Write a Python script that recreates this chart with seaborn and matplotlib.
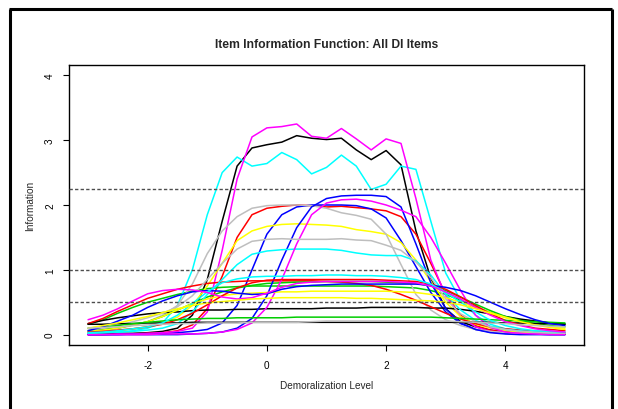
import numpy as np
import pandas as pd
import matplotlib
matplotlib.use("Agg")
import matplotlib.pyplot as plt
from matplotlib.lines import Line2D
import seaborn as sns

# theta grid the curves were read at
theta = [-3.0, -2.75, -2.5, -2.25, -2.0, -1.75, -1.5, -1.25, -1.0, -0.75, -0.5,
         -0.25, 0.0, 0.25, 0.5, 0.75, 1.0, 1.25, 1.5, 1.75, 2.0, 2.25,
         2.5, 2.75, 3.0, 3.25, 3.5, 3.75, 4.0, 4.25, 4.5, 4.75, 5.0]

# item information curves
black_big = [0.01, 0.01, 0.02, 0.02, 0.03, 0.05, 0.10, 0.30, 0.85, 1.75, 2.60,
             2.88, 2.93, 2.97, 3.07, 3.03, 3.01, 3.03, 2.85, 2.70, 2.84, 2.62,
             1.60, 0.87, 0.40, 0.20, 0.12, 0.07, 0.05, 0.03, 0.02, 0.02, 0.01]
red_big = [0.00, 0.00, 0.01, 0.01, 0.02, 0.03, 0.06, 0.15, 0.40, 0.90, 1.50,
           1.85, 1.95, 1.98, 2.00, 1.99, 1.97, 1.98, 1.96, 1.94, 1.91, 1.82,
           1.55, 1.10, 0.62, 0.30, 0.14, 0.07, 0.04, 0.02, 0.02, 0.01, 0.01]
green_early = [0.16, 0.23, 0.33, 0.42, 0.50, 0.56, 0.62, 0.67, 0.71, 0.73, 0.74,
               0.75, 0.75, 0.75, 0.75, 0.75, 0.75, 0.75, 0.75, 0.75, 0.74, 0.73,
               0.72, 0.68, 0.62, 0.53, 0.43, 0.34, 0.27, 0.23, 0.20, 0.18, 0.17]
blue_mid = [0.00, 0.00, 0.00, 0.01, 0.01, 0.02, 0.03, 0.05, 0.08, 0.18, 0.45,
            1.00, 1.55, 1.85, 1.97, 2.00, 2.00, 2.00, 1.99, 1.94, 1.80, 1.45,
            1.05, 0.65, 0.35, 0.17, 0.08, 0.04, 0.02, 0.01, 0.01, 0.00, 0.00]
cyan_big = [0.02, 0.03, 0.04, 0.06, 0.10, 0.18, 0.45, 1.00, 1.85, 2.50, 2.74,
            2.60, 2.64, 2.81, 2.70, 2.48, 2.58, 2.77, 2.60, 2.24, 2.32, 2.60,
            2.55, 1.75, 0.95, 0.53, 0.30, 0.16, 0.09, 0.06, 0.04, 0.03, 0.02]
magenta_big = [0.00, 0.00, 0.01, 0.01, 0.02, 0.03, 0.05, 0.10, 0.35, 1.30, 2.40,
               3.05, 3.19, 3.21, 3.25, 3.06, 3.03, 3.18, 3.02, 2.85, 3.02, 2.95,
               2.10, 1.15, 0.60, 0.28, 0.12, 0.05, 0.03, 0.02, 0.01, 0.01, 0.01]
yellow_big = [0.03, 0.04, 0.06, 0.09, 0.12, 0.18, 0.27, 0.45, 0.75, 1.10, 1.45,
              1.60, 1.67, 1.70, 1.71, 1.70, 1.69, 1.67, 1.62, 1.59, 1.55, 1.42,
              1.15, 0.82, 0.50, 0.28, 0.16, 0.10, 0.06, 0.04, 0.03, 0.02, 0.02]
gray_big = [0.05, 0.07, 0.10, 0.14, 0.20, 0.30, 0.45, 0.78, 1.25, 1.60, 1.82,
            1.95, 1.99, 2.00, 2.00, 1.99, 1.95, 1.88, 1.84, 1.78, 1.55, 1.08,
            0.62, 0.38, 0.23, 0.14, 0.08, 0.05, 0.03, 0.02, 0.01, 0.01, 0.01]
black_flat = [0.17, 0.22, 0.26, 0.29, 0.32, 0.34, 0.35, 0.37, 0.38, 0.38, 0.39,
              0.39, 0.40, 0.40, 0.40, 0.40, 0.41, 0.41, 0.41, 0.42, 0.42, 0.42,
              0.42, 0.41, 0.41, 0.39, 0.36, 0.32, 0.28, 0.24, 0.21, 0.18, 0.16]
red_early = [0.17, 0.25, 0.36, 0.46, 0.56, 0.63, 0.70, 0.75, 0.79, 0.81, 0.82,
             0.83, 0.83, 0.83, 0.83, 0.83, 0.82, 0.81, 0.79, 0.76, 0.70, 0.62,
             0.53, 0.43, 0.33, 0.24, 0.17, 0.12, 0.09, 0.07, 0.05, 0.04, 0.03]
green_mid = [0.06, 0.08, 0.10, 0.15, 0.20, 0.28, 0.38, 0.48, 0.58, 0.66, 0.72,
             0.76, 0.79, 0.80, 0.81, 0.81, 0.82, 0.82, 0.82, 0.82, 0.81, 0.80,
             0.79, 0.75, 0.68, 0.58, 0.47, 0.37, 0.28, 0.22, 0.17, 0.14, 0.12]
blue_late = [0.00, 0.00, 0.00, 0.00, 0.00, 0.00, 0.00, 0.01, 0.02, 0.04, 0.10,
             0.25, 0.60, 1.15, 1.65, 1.97, 2.10, 2.14, 2.15, 2.15, 2.13, 1.97,
             1.40, 0.80, 0.40, 0.18, 0.08, 0.03, 0.01, 0.00, 0.00, 0.00, 0.00]
cyan_mid = [0.02, 0.03, 0.04, 0.05, 0.07, 0.10, 0.17, 0.35, 0.62, 0.85, 1.08,
            1.24, 1.29, 1.31, 1.32, 1.32, 1.32, 1.30, 1.26, 1.23, 1.22, 1.22,
            1.14, 0.92, 0.62, 0.38, 0.22, 0.13, 0.08, 0.06, 0.04, 0.03, 0.03]
magenta_late = [0.00, 0.00, 0.00, 0.00, 0.00, 0.01, 0.01, 0.01, 0.02, 0.04, 0.08,
                0.18, 0.42, 0.85, 1.40, 1.85, 2.03, 2.08, 2.09, 2.06, 2.00, 1.92,
                1.82, 1.50, 1.10, 0.68, 0.30, 0.11, 0.04, 0.02, 0.01, 0.00, 0.00]
yellow_mid = [0.05, 0.07, 0.10, 0.15, 0.20, 0.28, 0.38, 0.48, 0.55, 0.60, 0.63,
              0.64, 0.65, 0.66, 0.66, 0.67, 0.67, 0.67, 0.67, 0.67, 0.67, 0.66,
              0.65, 0.62, 0.57, 0.50, 0.42, 0.34, 0.27, 0.21, 0.16, 0.12, 0.10]
gray_mid = [0.07, 0.10, 0.14, 0.20, 0.26, 0.33, 0.43, 0.60, 0.85, 1.10, 1.32,
            1.44, 1.47, 1.48, 1.47, 1.47, 1.47, 1.48, 1.46, 1.45, 1.38, 1.30,
            1.12, 0.88, 0.55, 0.32, 0.20, 0.12, 0.08, 0.05, 0.04, 0.03, 0.02]
black_low = [0.16, 0.16, 0.17, 0.17, 0.18, 0.18, 0.18, 0.19, 0.19, 0.19, 0.19,
             0.19, 0.19, 0.19, 0.19, 0.19, 0.19, 0.19, 0.19, 0.19, 0.19, 0.19,
             0.19, 0.19, 0.19, 0.19, 0.19, 0.19, 0.18, 0.18, 0.17, 0.17, 0.16]
red_mid = [0.04, 0.05, 0.07, 0.09, 0.12, 0.16, 0.23, 0.33, 0.46, 0.60, 0.72,
           0.80, 0.84, 0.85, 0.85, 0.85, 0.85, 0.85, 0.85, 0.85, 0.84, 0.83,
           0.82, 0.78, 0.70, 0.58, 0.45, 0.32, 0.22, 0.15, 0.10, 0.08, 0.06]
green_low = [0.10, 0.12, 0.14, 0.17, 0.19, 0.21, 0.23, 0.24, 0.25, 0.25, 0.26,
             0.26, 0.26, 0.26, 0.27, 0.27, 0.27, 0.27, 0.27, 0.27, 0.27, 0.27,
             0.27, 0.27, 0.26, 0.25, 0.24, 0.23, 0.22, 0.21, 0.20, 0.19, 0.18]
blue_wide = [0.06, 0.12, 0.21, 0.30, 0.42, 0.52, 0.60, 0.66, 0.68, 0.67, 0.64,
             0.62, 0.63, 0.70, 0.74, 0.76, 0.77, 0.78, 0.78, 0.78, 0.78, 0.78,
             0.78, 0.76, 0.73, 0.68, 0.60, 0.50, 0.40, 0.31, 0.23, 0.17, 0.14]
cyan_low = [0.03, 0.04, 0.06, 0.09, 0.12, 0.18, 0.30, 0.48, 0.66, 0.80, 0.86,
            0.89, 0.90, 0.90, 0.91, 0.91, 0.92, 0.92, 0.91, 0.91, 0.90, 0.88,
            0.85, 0.78, 0.65, 0.50, 0.35, 0.22, 0.14, 0.09, 0.06, 0.05, 0.04]
magenta_early = [0.23, 0.30, 0.40, 0.52, 0.63, 0.68, 0.70, 0.69, 0.65, 0.58, 0.55,
                 0.57, 0.64, 0.73, 0.79, 0.81, 0.82, 0.82, 0.82, 0.82, 0.82, 0.81,
                 0.80, 0.75, 0.66, 0.55, 0.42, 0.30, 0.20, 0.14, 0.09, 0.06, 0.04]
yellow_low = [0.10, 0.14, 0.18, 0.23, 0.28, 0.34, 0.40, 0.45, 0.49, 0.51, 0.53,
              0.55, 0.56, 0.57, 0.57, 0.57, 0.57, 0.57, 0.56, 0.56, 0.55, 0.54,
              0.53, 0.52, 0.50, 0.46, 0.40, 0.33, 0.26, 0.20, 0.15, 0.11, 0.08]
gray_low = [0.10, 0.11, 0.12, 0.14, 0.15, 0.16, 0.17, 0.17, 0.18, 0.18, 0.18,
            0.19, 0.19, 0.19, 0.19, 0.20, 0.21, 0.21, 0.21, 0.21, 0.21, 0.21,
            0.21, 0.21, 0.21, 0.20, 0.19, 0.18, 0.17, 0.15, 0.14, 0.13, 0.12]

# R's old default palette, cycled over the items
r_palette = ["black", "#FF0000", "#00CD00", "#0000FF",
             "#00FFFF", "#FF00FF", "#FFFF00", "#BEBEBE"]

curves = [black_big, red_big, green_early, blue_mid, cyan_big, magenta_big, yellow_big, gray_big,
          black_flat, red_early, green_mid, blue_late, cyan_mid, magenta_late, yellow_mid, gray_mid,
          black_low, red_mid, green_low, blue_wide, cyan_low, magenta_early, yellow_low, gray_low]

cutoffs = [2.24, 1.0, 0.5]

names = ["item%d" % (i + 1) for i in range(len(curves))]
colors = [r_palette[i % 8] for i in range(len(curves))]

rows = []
for name, vals in zip(names, curves):
    for t, v in zip(theta, vals):
        rows.append((t, v, name))
df = pd.DataFrame(rows, columns=["theta", "info", "item"])

sns.set_style("ticks")
plt.rcParams["font.family"] = ["Liberation Sans", "DejaVu Sans"]
plt.rcParams["axes.unicode_minus"] = False

fig = plt.figure(figsize=(6.18, 4.10), dpi=100)
ax = fig.add_axes([69 / 618, 64 / 410, 515 / 618, 280 / 410])

sns.lineplot(data=df, x="theta", y="info", hue="item", hue_order=names,
             palette=colors, estimator=None, legend=False, linewidth=1.1, ax=ax)

for c in cutoffs:
    ax.axhline(c, color="0.3", linewidth=1.0, linestyle=(0, (2.4, 1.6)), zorder=5)

ax.set_xlim(-3.32, 5.32)
ax.set_ylim(-0.16, 4.16)
ax.set_xticks([-2, 0, 2, 4])
ax.set_yticks([0, 1, 2, 3, 4])
ax.set_yticklabels(["0", "1", "2", "3", "4"], rotation=90, va="center")
ax.tick_params(axis="both", direction="out", length=4, width=0.8,
               labelsize=7.2, colors="black")
ax.tick_params(axis="x", pad=7)
ax.tick_params(axis="y", pad=6)
for s in ax.spines.values():
    s.set_visible(True)
    s.set_linewidth(1.0)
    s.set_color("black")

ax.set_xlabel("Demoralization Level", fontsize=7.2, va="center")
ax.xaxis.set_label_coords(0.5, -40 / 280)
ax.set_ylabel("Information", fontsize=7.2, va="center")
ax.yaxis.set_label_coords(-39 / 515, 0.5)

fig.text(326.5 / 618, 1 - 44.5 / 410, "Item Information Function: All DI Items",
         ha="center", va="center", fontsize=8.7, fontweight="bold")

# outer frame (left, top, right edges visible in the reference)
fw = 2.2
fig.add_artist(Line2D([9.5 / 618, 9.5 / 618], [-0.02, 1 - 10 / 410], color="black", lw=fw,
                      transform=fig.transFigure, solid_capstyle="butt"))
fig.add_artist(Line2D([8.7 / 618, 612.3 / 618], [1 - 10 / 410, 1 - 10 / 410], color="black",
                      lw=fw, transform=fig.transFigure, solid_capstyle="butt"))
fig.add_artist(Line2D([611.5 / 618, 611.5 / 618], [-0.02, 1 - 10 / 410], color="black", lw=fw,
                      transform=fig.transFigure, solid_capstyle="butt"))

fig.savefig("out.png", dpi=100)
